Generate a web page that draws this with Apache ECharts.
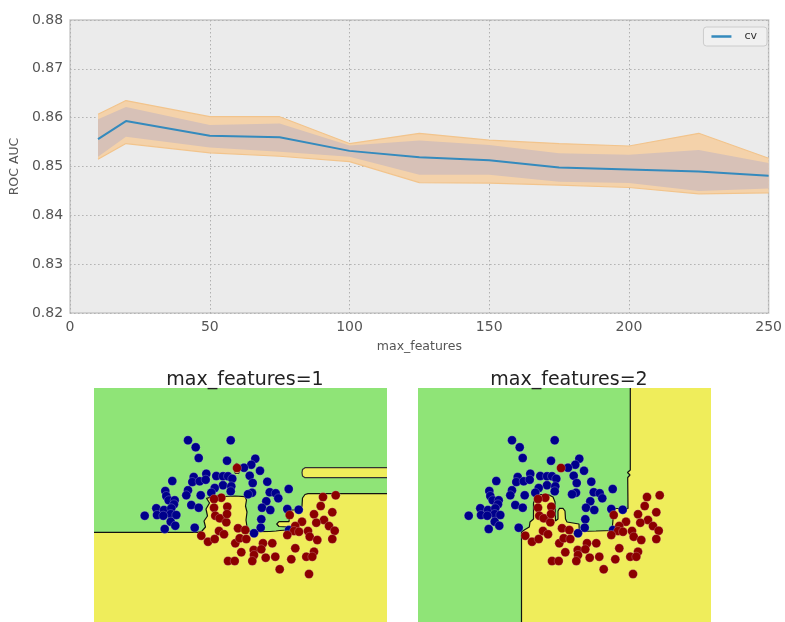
<!DOCTYPE html>
<html>
<head>
<meta charset="utf-8">
<script src="https://cdn.jsdelivr.net/npm/echarts@6/dist/echarts.min.js"></script>
<style>
html,body{margin:0;padding:0;background:#fff;}
#chart{width:785px;height:622px;}
</style>
</head>
<body>
<div id="chart"></div>
<script>
// ---- top chart data ----
const maxFeatures = [10, 20, 50, 75, 100, 125, 150, 175, 200, 225, 250];
const meanAuc   = [0.8556, 0.8593, 0.8563, 0.8560, 0.8532, 0.8519, 0.8513, 0.8498, 0.8494, 0.8490, 0.8481];
const outerHigh = [0.8607, 0.8635, 0.8602, 0.8602, 0.8547, 0.8568, 0.8554, 0.8547, 0.8542, 0.8568, 0.8517];
const innerHigh = [0.8597, 0.8622, 0.8585, 0.8588, 0.8543, 0.8553, 0.8544, 0.8527, 0.8524, 0.8534, 0.8507];
const innerLow  = [0.8520, 0.8561, 0.8539, 0.8530, 0.8520, 0.8483, 0.8483, 0.8469, 0.8466, 0.8450, 0.8455];
const outerLow  = [0.8515, 0.8547, 0.8528, 0.8521, 0.8510, 0.8467, 0.8466, 0.8462, 0.8457, 0.8444, 0.8446];
const yTicks = [0.82, 0.83, 0.84, 0.85, 0.86, 0.87, 0.88];
const xTicks = [0, 50, 100, 150, 200, 250];

// ---- scatter data (feature space 0..293) ----
const bluePoints = [
[94,240.7],[136.7,240.7],[101.7,233.7],[104.7,223],[133,220.3],[112.3,207.3],[122.3,205],[129,204.7],
[134,204.7],[138.3,202.3],[99.7,204],[78.3,200],[98.3,199],[105.7,199.7],[111.7,201.3],[129,195.7],
[137.3,194.7],[120.7,193],[94,190.7],[71.3,190],[92.3,185.7],[106.7,185.7],[117.3,188.3],[136.7,189.7],
[72.3,185],[74.7,180.7],[80.7,180.7],[161.3,222.3],[157.3,216.3],[150,213.3],[166,210.3],[155.7,205.3],
[158.7,198],[173.3,199.3],[194.7,192],[158,188.3],[154,186.7],[175.7,188.7],[181.7,187.7],[184.3,182.7],
[172.3,179.7],[80,176.7],[62.3,172.7],[70,171],[77.3,172.7],[50.7,165.3],[63,166],[76.7,167],
[82.3,166],[76.7,159.3],[81.3,155.3],[70.7,152],[100.7,153.3],[97.3,176],[104.7,173.3],[168,173.3],
[176.3,171],[193.3,172],[204.7,171.3],[167.3,161.7],[166.7,153.3],[160,147.7],[195,151],[69.3,165.3]
];
const redPoints = [
[143,213],[127.3,183.3],[229,184],[241.7,185.7],[120,182],[120,173.3],[133.3,174.3],[121.3,165.3],
[125.7,162.7],[132.3,158.7],[133,167],[125,150],[130,146.7],[107.3,145.3],[114,139.3],[120.7,142],
[141.3,137.7],[134,120],[140.7,120],[144,152.7],[145.7,142.7],[152.3,142],[195.7,166],[208,159.3],
[201.3,155],[200,150],[205,149.3],[214,150],[215.7,144.3],[223.3,141],[220,166.7],[226.7,175],
[238.3,168.7],[230,161],[222.3,158.3],[235,155],[240.7,150.3],[238.3,142],[193.3,146],[169,137.7],
[178.3,137.7],[147.3,128.7],[159.7,131],[160,126],[167.3,131.7],[171.7,123.3],[181.3,124.3],[158.3,120],
[201.3,132.7],[197.3,121.7],[212.3,124.3],[220,129.3],[218.3,124.3],[185.7,111.7],[215,107],[151.3,151]
];

// ---- decision regions (yellow class) ----
const p1Boundary = [
[0,148.7],[104,148.7],[108,150],[111.5,154],[110,160],[113.5,165],[112,172],[115.5,178],[112.5,182.7],
[114,184.5],[121,185],[131,184.5],[141,185],[151,184.3],[152.5,181],[151.5,175],[153,169],[152,161],
[153,154],[155,150],[161,149.3],[176,149.5],[182,150],[186,150.5],[193,151],[194,154],[185,154.5],
[182.7,157],[185,159.3],[195,159.3],[195.5,165],[195.5,171],[206,171],[208,175],[208.5,183],[211,186.5],
[214,187.3],[293,187.3]
];
const p1Bar = [[293,213.3],[211,213.3],[208.5,211.5],[208,208.3],[208.5,205],[211,203.3],[293,203.3]];
const p1Island = [[143,218],[145,216.5],[145.5,212],[145,207.5],[143,206],[141,207.5],[140.5,212],[141,216.5],[143,218]];
const p2Boundary = [
[212.3,293],[212.3,211],[209.5,208.5],[212,206],[209.7,203.5],[210,172.5],[195.3,172.5],[195,161],
[194,150.5],[178,150],[161.3,149.7],[161,157],[149,159],[147.5,162],[147,170],[145,172.7],[141.5,172.7],
[140,170],[140,162],[137.5,160],[137,179],[135,184],[130,186.5],[123,186.5],[118,184],[115.5,178],
[115.5,162],[112,159],[111.3,154],[107,151.5],[103.5,149],[103.5,0]
];

const GREEN = '#8fe477', YELLOW = '#efed5b';

function polySeries(pts, fill, xi, yi, z) {
  return {
    type: 'custom', coordinateSystem: 'cartesian2d', xAxisIndex: xi, yAxisIndex: yi,
    silent: true, clip: true, z: z, data: [[pts[0][0], pts[0][1]]],
    renderItem: function (params, api) {
      return { type: 'polygon', shape: { points: pts.map(p => api.coord(p)) },
        style: { fill: fill, lineWidth: 0 } };
    }
  };
}
function lineSeries(pts, color, width, xi, yi, z, name) {
  return {
    type: 'line', name: name, xAxisIndex: xi, yAxisIndex: yi, data: pts, symbol: 'none', showSymbol: false,
    silent: true, z: z, clip: true,
    lineStyle: { color: color, width: width }, itemStyle: { color: color }
  };
}
const pairs = (ys) => maxFeatures.map((x, i) => [x, ys[i]]);
const outerBand = pairs(outerHigh).concat(pairs(outerLow).reverse());
const innerBand = pairs(innerHigh).concat(pairs(innerLow).reverse());

const p1Region = p1Boundary.concat([[293,0],[0,0]]);
const p2Region = p2Boundary.concat([[293,0],[293,293]]);

const FONT = 'DejaVu Sans';
const chart = echarts.init(document.getElementById('chart'), null, { renderer: 'canvas' });

// panels: feature range 0..293 on both axes; only the upper part (59..293) is visible
const hiddenX = (gi) => ({ type: 'value', gridIndex: gi, min: 0, max: 293, show: false });
const hiddenY = (gi) => ({ type: 'value', gridIndex: gi, min: 59, max: 293, show: false });
const dotStyle = (c) => ({ color: c, opacity: 1, borderColor: 'rgba(255,255,255,0.35)', borderWidth: 0.6 });

chart.setOption({
  animation: false,
  backgroundColor: '#ffffff',
  textStyle: { fontFamily: FONT },
  title: [
    { text: 'max_features=1', left: 240, top: 366, textAlign: 'center',
      textStyle: { fontFamily: FONT, fontSize: 19, fontWeight: 'normal', color: '#222' } },
    { text: 'max_features=2', left: 564, top: 366, textAlign: 'center',
      textStyle: { fontFamily: FONT, fontSize: 19, fontWeight: 'normal', color: '#222' } }
  ],
  legend: {
    data: [{ name: 'cv', icon: 'rect' }], right: 18, top: 27, padding: [4, 10, 4, 8],
    itemWidth: 20, itemHeight: 2.5, itemGap: 10,
    backgroundColor: '#f0f0f0', borderColor: '#cccccc', borderWidth: 1, borderRadius: 3,
    textStyle: { fontFamily: FONT, fontSize: 11, color: '#333', padding: [0, 0, 0, 8] }
  },
  grid: [
    { left: 70, top: 20, width: 703, height: 293, show: true, backgroundColor: '#ebebeb',
      borderColor: '#c8c8c8', borderWidth: 1.5 },
    { left: 94, top: 388, width: 293, height: 234, show: true, backgroundColor: GREEN, borderWidth: 0 },
    { left: 418, top: 388, width: 293, height: 234, show: true, backgroundColor: GREEN, borderWidth: 0 }
  ],
  xAxis: [
    { type: 'value', gridIndex: 0, min: 0, max: 250, interval: 50,
      name: 'max_features', nameLocation: 'middle', nameGap: 27,
      nameTextStyle: { fontFamily: FONT, fontSize: 12.5, color: '#555' },
      axisLine: { show: false }, axisTick: { show: false },
      axisLabel: { fontFamily: FONT, fontSize: 14, color: '#555', margin: 7,
        formatter: v => xTicks.includes(v) ? String(v) : '' },
      splitLine: { show: true, lineStyle: { color: '#b0b0b0', type: [1.5, 2.5], width: 1 } } },
    hiddenX(1), hiddenX(2)
  ],
  yAxis: [
    { type: 'value', gridIndex: 0, min: 0.82, max: 0.88, interval: 0.01,
      name: 'ROC AUC', nameLocation: 'middle', nameGap: 42,
      nameTextStyle: { fontFamily: FONT, fontSize: 12.5, color: '#555' },
      axisLine: { show: false }, axisTick: { show: false },
      axisLabel: { fontFamily: FONT, fontSize: 14, color: '#555', margin: 7,
        formatter: v => { const t = yTicks.find(k => Math.abs(k - v) < 1e-9); return t !== undefined ? t.toFixed(2) : ''; } },
      splitLine: { show: true, lineStyle: { color: '#b0b0b0', type: [1.5, 2.5], width: 1 } } },
    hiddenY(1), hiddenY(2)
  ],
  series: [
    polySeries(outerBand, '#f4d2aa', 0, 0, 2),
    lineSeries(pairs(outerHigh), '#f2c48c', 1.2, 0, 0, 3),
    lineSeries(pairs(outerLow), '#f2c48c', 1.2, 0, 0, 3),
    polySeries(innerBand, '#d7c1b7', 0, 0, 4),
    lineSeries(pairs(meanAuc), '#348abd', 2, 0, 0, 6, 'cv'),

    polySeries(p1Region, YELLOW, 1, 1, 2),
    polySeries(p1Bar, YELLOW, 1, 1, 2),
    polySeries(p1Island, YELLOW, 1, 1, 2),
    lineSeries(p1Boundary, '#111', 1.2, 1, 1, 3),
    lineSeries(p1Bar, '#333', 1.2, 1, 1, 3),
    lineSeries(p1Island, '#333', 1, 1, 1, 3),
    { type: 'scatter', xAxisIndex: 1, yAxisIndex: 1, data: bluePoints, symbolSize: 9, silent: true, z: 5, itemStyle: dotStyle('#00008b') },
    { type: 'scatter', xAxisIndex: 1, yAxisIndex: 1, data: redPoints, symbolSize: 9, silent: true, z: 5, itemStyle: dotStyle('#8b0000') },

    polySeries(p2Region, YELLOW, 2, 2, 2),
    lineSeries(p2Boundary, '#111', 1.2, 2, 2, 3),
    { type: 'scatter', xAxisIndex: 2, yAxisIndex: 2, data: bluePoints, symbolSize: 9, silent: true, z: 5, itemStyle: dotStyle('#00008b') },
    { type: 'scatter', xAxisIndex: 2, yAxisIndex: 2, data: redPoints, symbolSize: 9, silent: true, z: 5, itemStyle: dotStyle('#8b0000') }
  ]
});
</script>
</body>
</html>
